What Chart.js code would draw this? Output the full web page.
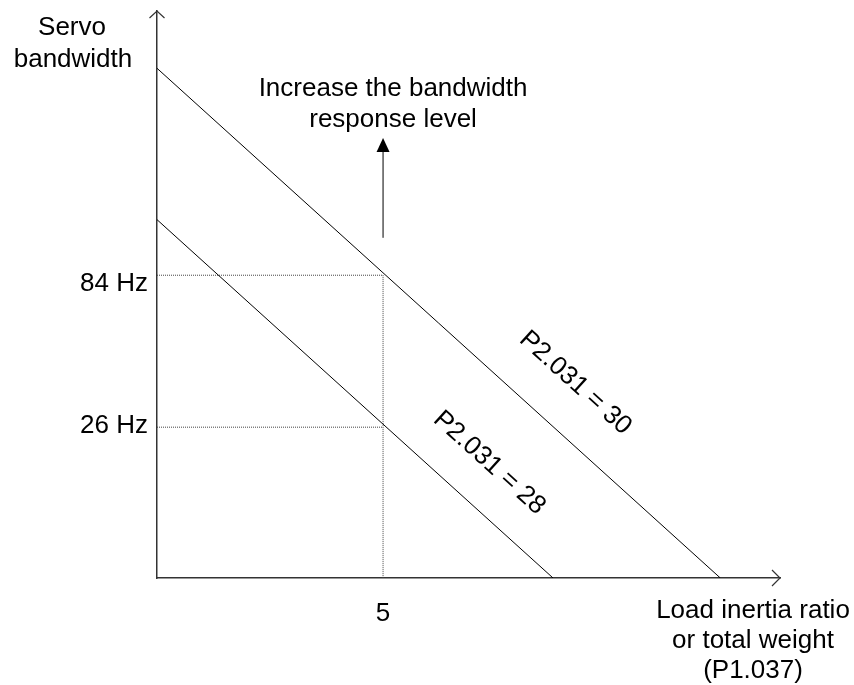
<!DOCTYPE html>
<html>
<head>
<meta charset="utf-8">
<script src="https://cdn.jsdelivr.net/npm/chart.js"></script>
<style>
  html, body { margin: 0; padding: 0; background: #fff; }
  #wrap { width: 854px; height: 685px; }
</style>
</head>
<body>
<div id="wrap"><canvas id="chart"></canvas></div>
<script>
// x = load inertia ratio, y = relative bandwidth level (0..100, axis has no unit scale)
const lineP30X = [0, 12.46];
const lineP30Y = [89.9, 0];
const lineP28X = [0, 8.76];
const lineP28Y = [63.2, 0];
const guide84X = [0, 5, 5];
const guide84Y = [53.4, 53.4, 0];
const guide26X = [0, 5];
const guide26Y = [26.6, 26.6];

const xTickValues = [5];
const xTickLabels = ['5'];
const yTickValues = [26.8, 51.9];
const yTickLabels = ['26 Hz', '84 Hz'];

const lineLabels = ['P2.031 = 30', 'P2.031 = 28'];
const lineLabelPos = [[9.25, 34.4], [7.35, 20.3]];
const arrowX = 5;
const arrowY = [60, 77.6];
const arrowText = ['Increase the bandwidth', 'response level'];
const yTitle = ['Servo', 'bandwidth'];
const xTitle = ['Load inertia ratio', 'or total weight', '(P1.037)'];

const FONT = '26px "Liberation Sans", Arial, sans-serif';

function pts(xs, ys) {
  return xs.map((x, i) => ({ x: x, y: ys[i] }));
}

// extra drawing: axis arrows, annotation texts
const annotations = {
  id: 'annotations',
  afterDraw(chart) {
    const ctx = chart.ctx;
    const xs = chart.scales.x;
    const ys = chart.scales.y;
    const area = chart.chartArea;
    ctx.save();

    // open arrow heads on the axes
    ctx.strokeStyle = '#333';
    ctx.lineWidth = 1.2;
    ctx.beginPath();
    ctx.moveTo(area.left - 7.5, area.top + 7);
    ctx.lineTo(area.left, area.top);
    ctx.lineTo(area.left + 7.5, area.top + 7);
    ctx.moveTo(area.right - 8, area.bottom - 8);
    ctx.lineTo(area.right, area.bottom);
    ctx.lineTo(area.right - 8, area.bottom + 8);
    ctx.stroke();

    // increase arrow
    const ax = xs.getPixelForValue(arrowX);
    const ay0 = ys.getPixelForValue(arrowY[0]);
    const ay1 = ys.getPixelForValue(arrowY[1]);
    ctx.strokeStyle = '#000';
    ctx.lineWidth = 1;
    ctx.beginPath();
    ctx.moveTo(ax, ay0);
    ctx.lineTo(ax, ay1 + 12);
    ctx.stroke();
    ctx.fillStyle = '#000';
    ctx.beginPath();
    ctx.moveTo(ax, ay1);
    ctx.lineTo(ax - 6.5, ay1 + 14);
    ctx.lineTo(ax + 6.5, ay1 + 14);
    ctx.closePath();
    ctx.fill();

    ctx.font = FONT;
    ctx.textAlign = 'center';
    ctx.textBaseline = 'alphabetic';
    ctx.fillText(arrowText[0], ax + 10, ay1 - 42);
    ctx.fillText(arrowText[1], ax + 10, ay1 - 11);

    // y axis title
    ctx.fillText(yTitle[0], area.left - 85, area.top + 24);
    ctx.fillText(yTitle[1], area.left - 84, area.top + 56);

    // x axis title
    xTitle.forEach((t, i) => {
      ctx.fillText(t, area.right - 27, area.bottom + 40 + i * 30);
    });

    // labels along the lines
    const lines = [[lineP30X, lineP30Y], [lineP28X, lineP28Y]];
    lines.forEach((ln, i) => {
      const dx = xs.getPixelForValue(ln[0][1]) - xs.getPixelForValue(ln[0][0]);
      const dy = ys.getPixelForValue(ln[1][1]) - ys.getPixelForValue(ln[1][0]);
      const ang = Math.atan2(dy, dx);
      const px = xs.getPixelForValue(lineLabelPos[i][0]);
      const py = ys.getPixelForValue(lineLabelPos[i][1]);
      ctx.save();
      ctx.translate(px, py);
      ctx.rotate(ang);
      ctx.textBaseline = 'middle';
      ctx.fillText(lineLabels[i], 0, 0);
      ctx.restore();
    });

    ctx.restore();
  }
};

const solid = { borderColor: '#000', borderWidth: 1, pointRadius: 0, fill: false, tension: 0 };
const dotted = { borderColor: '#444', borderWidth: 1, borderDash: [1, 1], pointRadius: 0, fill: false, tension: 0 };

new Chart(document.getElementById('chart'), {
  type: 'line',
  data: {
    datasets: [
      Object.assign({ label: 'P2.031 = 30', data: pts(lineP30X, lineP30Y) }, solid),
      Object.assign({ label: 'P2.031 = 28', data: pts(lineP28X, lineP28Y) }, solid),
      Object.assign({ label: '84 Hz', data: pts(guide84X, guide84Y) }, dotted),
      Object.assign({ label: '26 Hz', data: pts(guide26X, guide26Y) }, dotted)
    ]
  },
  options: {
    responsive: true,
    maintainAspectRatio: false,
    animation: false,
    layout: { padding: { top: 11, right: 74, left: 0, bottom: 0 } },
    plugins: { legend: { display: false }, tooltip: { enabled: false } },
    scales: {
      x: {
        type: 'linear',
        min: 0,
        max: 13.78,
        grid: { display: false, drawTicks: false },
        border: { display: true, color: '#333', width: 1.5 },
        afterBuildTicks: function(scale) {
          scale.ticks = xTickValues.map(v => ({ value: v }));
        },
        afterFit: function(scale) {
          scale.height = 107;
          scale.paddingLeft = 0;
          scale.paddingRight = 0;
        },
        ticks: {
          autoSkip: false,
          padding: 20,
          color: '#000',
          font: { family: '"Liberation Sans", Arial, sans-serif', size: 26 },
          maxRotation: 0,
          callback: function(v) {
            const i = xTickValues.indexOf(v);
            return i >= 0 ? xTickLabels[i] : '';
          }
        }
      },
      y: {
        type: 'linear',
        min: 0,
        max: 100,
        grid: { display: false, drawTicks: false },
        border: { display: true, color: '#333', width: 1.5 },
        afterBuildTicks: function(scale) {
          scale.ticks = yTickValues.map(v => ({ value: v }));
        },
        afterFit: function(scale) {
          scale.width = 157;
          scale.paddingTop = 0;
          scale.paddingBottom = 0;
        },
        ticks: {
          autoSkip: false,
          padding: 9,
          color: '#000',
          font: { family: '"Liberation Sans", Arial, sans-serif', size: 26 },
          callback: function(v) {
            const i = yTickValues.indexOf(v);
            return i >= 0 ? yTickLabels[i] : '';
          }
        }
      }
    }
  },
  plugins: [annotations]
});
</script>
</body>
</html>
